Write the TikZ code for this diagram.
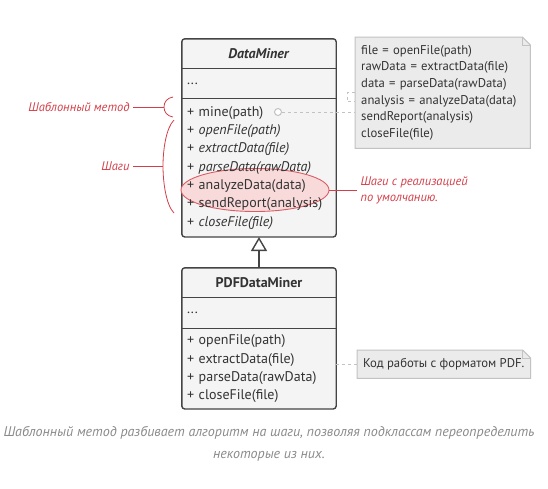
\documentclass[tikz,border=0pt]{standalone}
\usepackage{fontspec}
\setmainfont{PT Sans}
\usetikzlibrary{positioning,arrows.meta,shapes.geometric,backgrounds}
\definecolor{LineGray}{HTML}{444444}
\definecolor{BoxFill}{HTML}{F4F4F4}
\definecolor{NoteFill}{HTML}{EBEBEB}
\definecolor{NoteLine}{HTML}{C2C2C2}
\definecolor{HintRed}{HTML}{D33F49}
\definecolor{HintPink}{HTML}{F9DADB}
\definecolor{TextGray}{HTML}{333333}
\definecolor{CapGray}{HTML}{8A8A8A}

\begin{document}
\begin{tikzpicture}[x=1pt, y=-1pt,
    compart/.style={minimum width=154pt, text width=144pt, inner xsep=5pt, inner ysep=0pt,
      align=left, text=TextGray, font=\fontsize{14}{18.3}\selectfont},
    head/.style={compart, align=center, minimum height=29pt, font=\fontsize{14}{16}\selectfont\bfseries},
    frame/.style={draw=LineGray, line width=1.4pt, rounded corners=3pt, fill=BoxFill},
    sep/.style={draw=LineGray, line width=1.4pt},
    note/.style={anchor=north west, inner xsep=6pt, inner ysep=0pt, align=left,
      text=TextGray, font=\fontsize{12.7}{16.6}\selectfont},
    notebox/.style={draw=NoteLine, line width=1pt, fill=NoteFill},
    link/.style={draw=NoteLine, line width=1pt, dash pattern=on 3pt off 3pt},
    hint/.style={text=HintRed, font=\fontsize{12.5}{16}\selectfont\itshape},
    hintline/.style={draw=HintRed, line width=0.8pt},
    inherit/.style={-{Triangle[open, length=14pt, width=16pt, fill=white]}, draw=LineGray, line width=1.4pt}
  ]
    \useasboundingbox (0,0) rectangle (548,488);

    % base class
    \node[head] (dmHead) at (259,53.5) {\textit{DataMiner}};
    \node[compart, minimum height=30pt, below=0pt of dmHead] (dmAttr) {...};
    \node[compart, minimum height=138pt, below=0pt of dmAttr] (dmOps) {+ mine(path)\\
      + \textit{openFile(path)}\\
      + \textit{extractData(file)}\\
      + \textit{parseData(rawData)}\\
      + analyzeData(data)\\
      + sendReport(analysis)\\
      + \textit{closeFile(file)}};

    % subclass
    \node[head] (pdfHead) at (259,282.5) {PDFDataMiner};
    \node[compart, minimum height=31pt, below=0pt of pdfHead] (pdfAttr) {...};
    \node[compart, minimum height=80pt, below=0pt of pdfAttr] (pdfOps) {+ openFile(path)\\
      + extractData(file)\\
      + parseData(rawData)\\
      + closeFile(file)};

    % notes
    \node[note, minimum width=175pt, minimum height=111pt, text width=163pt] (tmplNote) at (355,37) {file = openFile(path)\\
      rawData = extractData(file)\\
      data = parseData(rawData)\\
      analysis = analyzeData(data)\\
      sendReport(analysis)\\
      closeFile(file)};
    \node[note, minimum width=171pt, minimum height=28pt] (pdfNote) at (357,350) {Код работы с форматом PDF.};

    \begin{scope}[on background layer]
      \foreach \c in {dm, pdf} {
        \draw[frame] (\c Head.north west) rectangle (\c Ops.south east);
        \draw[sep] (\c Head.south west) -- (\c Head.south east);
        \draw[sep] (\c Attr.south west) -- (\c Attr.south east);
      }
      \foreach \n in {tmplNote, pdfNote} {
        \draw[notebox] (\n.north west) -- ([xshift=-8pt]\n.north east) -- ([yshift=-8pt]\n.north east)
          -- (\n.south east) -- (\n.south west) -- cycle;
        \draw[notebox, fill=none] ([xshift=-8pt]\n.north east) |- ([yshift=-8pt]\n.north east);
      }
      \node[ellipse, draw=HintRed!85, fill=HintPink, line width=0.9pt, inner sep=0pt,
        minimum width=148pt, minimum height=43pt] (dfltMark) at (255,190) {};
    \end{scope}

    \draw[inherit] (pdfHead.north) -- (dmOps.south);

    % note links
    \node[circle, draw=NoteLine, line width=1pt, fill=white, minimum size=7pt, inner sep=0pt] (mineDot) at (278,112) {};
    \draw[link] (mineDot) -- (mineDot -| tmplNote.west);
    \draw[link] (tmplNote.west) -- ++(-8,0) -- ++(0,9) -- ++(8,0);
    \draw[link] (pdfOps.east |- pdfNote.west) -- (pdfNote.west);

    % hints
    \node[hint, anchor=east] (tmplLbl) at (133,107) {Шаблонный метод};
    \coordinate (tmplTip) at (164,107);
    \draw[hintline] (tmplLbl) -- (tmplTip);
    \draw[hintline] (173,97) .. controls (167,98) and (164,102) .. (tmplTip)
      .. controls (164,112) and (167,116) .. (173,117);

    \node[hint, anchor=east] (stepLbl) at (133,166) {Шаги};
    \coordinate (stepTip) at (163,166);
    \draw[hintline] (stepLbl) -- (stepTip);
    \draw[hintline] (174,120) .. controls (166,128) and (163,150) .. (stepTip)
      .. controls (163,182) and (166,205) .. (174,213);

    \node[hint, anchor=west, align=left] (dfltLbl) at (357,190) {Шаги с реализацией\\по умолчанию.};
    \draw[hintline] (dfltMark.east) -- (dfltMark.east -| dfltLbl.west);

    % caption
    \node[align=center, text=CapGray, font=\fontsize{14}{22}\selectfont\itshape] (capText) at (269,444)
      {Шаблонный метод разбивает алгоритм на шаги, позволяя подклассам переопределить\\некоторые из них.};
  \end{tikzpicture}
\end{document}
